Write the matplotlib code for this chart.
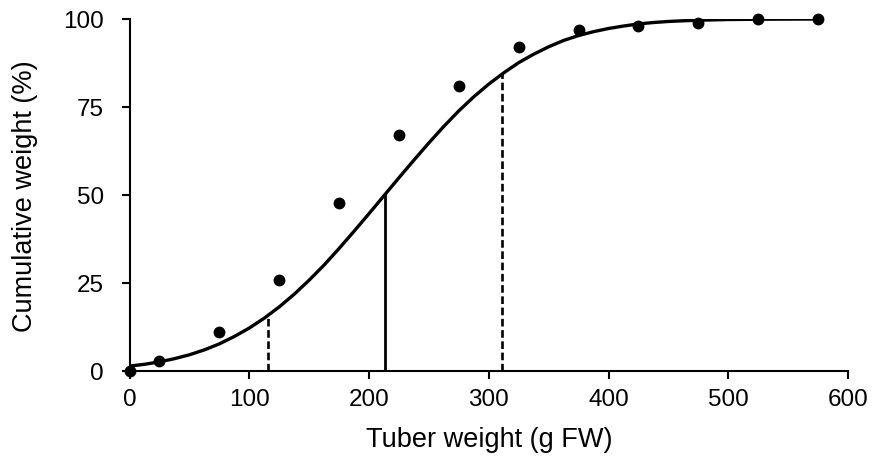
import matplotlib
matplotlib.use("Agg")
import matplotlib.pyplot as plt

plt.rcParams['font.family'] = ['Liberation Sans', 'DejaVu Sans']
plt.rcParams['lines.scale_dashes'] = False

# Observed cumulative weight points
obs_weight = [0, 25, 75, 125, 175, 225, 275, 325, 375, 425, 475, 525, 575]
obs_cumulative = [0, 2.7, 11.1, 25.8, 47.6, 67.1, 81.0, 92.1, 96.9, 98.1, 99.0, 100, 100]

# Fitted curve
fit_weight = [0, 12.5, 25, 37.5, 50, 62.5, 75, 87.5, 100, 112.5, 125, 137.5, 150, 162.5,
              175, 187.5, 200, 212.5, 225, 237.5, 250, 262.5, 275, 287.5, 300, 312.5,
              325, 337.5, 350, 362.5, 375, 387.5, 400, 412.5, 425, 437.5, 450, 462.5,
              475, 500, 525, 550, 575]
fit_cumulative = [1.4, 1.9, 2.6, 3.5, 4.6, 6.0, 7.7, 9.8, 12.2, 15.0, 18.2, 21.8, 25.8, 30.1,
                  34.8, 39.7, 44.7, 49.8, 54.9, 59.9, 64.8, 69.5, 73.9, 77.9, 81.5, 84.7,
                  87.6, 90.0, 92.1, 93.9, 95.3, 96.4, 97.3, 98.0, 98.6, 99.0, 99.3, 99.5,
                  99.65, 99.85, 99.93, 99.97, 99.99]

# Reference lines: (x, top of line on the curve, style)
ref_x = [116, 213, 311]
ref_top = [16.1, 49.8, 84.4]
ref_style = ['dashed', 'solid', 'dashed']

x_ticks = [0, 100, 200, 300, 400, 500, 600]
y_ticks = [0, 25, 50, 75, 100]

fig = plt.figure(figsize=(8.72, 4.60), dpi=100)
ax = fig.add_axes([129.5 / 872, 1 - 372 / 460, (848 - 129.5) / 872, (372 - 20) / 460])

for xv, top, st in zip(ref_x, ref_top, ref_style):
    if st == 'dashed':
        ax.plot([xv, xv], [0, top], color='black', lw=1.9, dashes=(5.5, 2.6), zorder=2)
    else:
        ax.plot([xv, xv], [0, top], color='black', lw=2.0, zorder=2)

ax.plot(fit_weight, fit_cumulative, color='black', lw=2.4, solid_joinstyle='round', zorder=3)
ax.plot(obs_weight, obs_cumulative, 'o', color='black', ms=7.5, clip_on=False, zorder=4)

ax.set_xlim(0, 600)
ax.set_ylim(0, 100)
ax.set_xticks(x_ticks)
ax.set_yticks(y_ticks)
for s in ['top', 'right']:
    ax.spines[s].set_visible(False)
for s in ['left', 'bottom']:
    ax.spines[s].set_linewidth(1.5)
ax.tick_params(axis='both', direction='out', length=5.5, width=1.5, labelsize=17.5)
ax.tick_params(axis='y', pad=13)
ax.tick_params(axis='x', pad=7)

ax.set_xlabel('Tuber weight (g FW)', fontsize=19.5, labelpad=11)
ax.set_ylabel('Cumulative weight (%)', fontsize=19.5, labelpad=18)

fig.savefig('out.png', dpi=100)
